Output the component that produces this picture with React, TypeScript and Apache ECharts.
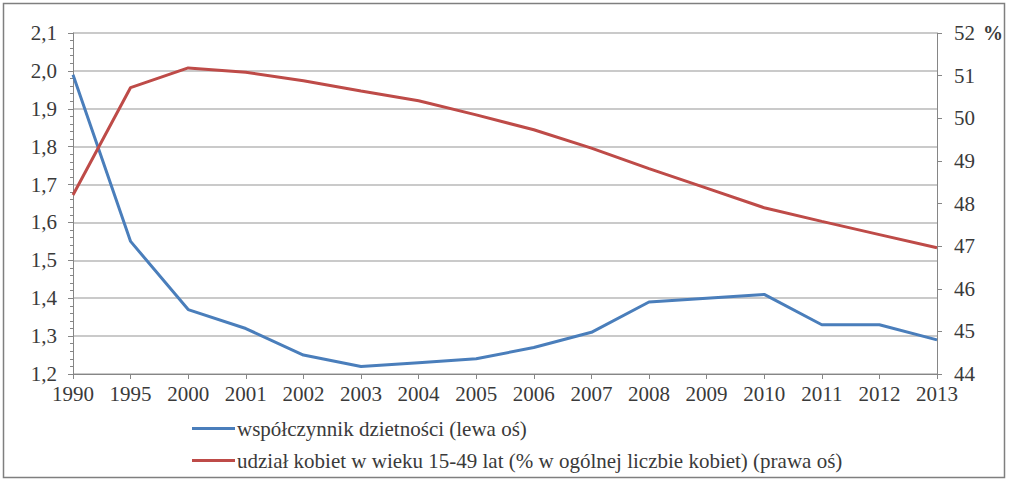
import React, { useEffect, useRef } from "react";
import * as echarts from "echarts";

const years = ["1990", "1995", "2000", "2001", "2002", "2003", "2004", "2005", "2006", "2007", "2008", "2009", "2010", "2011", "2012", "2013"];
const fertility = [1.99, 1.55, 1.37, 1.32, 1.25, 1.22, 1.23, 1.24, 1.27, 1.31, 1.39, 1.40, 1.41, 1.33, 1.33, 1.29];
const womenShare = [48.2, 50.72, 51.18, 51.08, 50.88, 50.64, 50.41, 50.08, 49.73, 49.3, 48.82, 48.36, 47.9, 47.58, 47.27, 46.96];
const seriesNames = [
  "współczynnik dzietności (lewa oś)",
  "udział kobiet w wieku 15-49 lat (% w ogólnej liczbie kobiet) (prawa oś)",
];

const FONT = "Liberation Serif";
const TEXT = "#3a3a3a";
const AXIS = "#868686";
const FS = 21;

export default function App() {
  const ref = useRef<HTMLDivElement>(null);
  useEffect(() => {
    if (!ref.current) return;
    const chart = echarts.init(ref.current, undefined, { renderer: "svg" });
    chart.setOption({
      animation: false,
      backgroundColor: "#ffffff",
      textStyle: { fontFamily: FONT },
      grid: { left: 73, right: 72, top: 33, bottom: 108 },
      graphic: [
        {
          type: "rect",
          shape: { x: 3.5, y: 3.5, width: 1001, height: 474 },
          style: { fill: "none", stroke: "#7f7f7f", lineWidth: 1.5 },
        },
        {
          type: "text",
          x: 983,
          y: 33,
          style: { text: "%", fontFamily: FONT, fontSize: 20, fontWeight: "bold", fill: TEXT, verticalAlign: "middle" },
        },
      ],
      legend: {
        orient: "vertical",
        left: 187,
        top: 413,
        itemWidth: 43,
        itemHeight: 3,
        itemGap: 11,
        icon: "rect",
        textStyle: { fontFamily: FONT, fontSize: FS, color: TEXT, padding: [0, 0, 0, -3] },
        data: seriesNames,
      },
      xAxis: {
        type: "category",
        data: years,
        boundaryGap: false,
        axisLine: { lineStyle: { color: AXIS, width: 1 } },
        axisTick: { show: true, alignWithLabel: true, length: 5, lineStyle: { color: AXIS } },
        axisLabel: { color: TEXT, fontFamily: FONT, fontSize: FS, margin: 9, interval: 0 },
      },
      yAxis: [
        {
          type: "value",
          min: 1.2,
          max: 2.1,
          interval: 0.1,
          axisLine: { show: true, lineStyle: { color: AXIS } },
          axisTick: { show: true, length: 5, lineStyle: { color: AXIS } },
          minorTick: { show: true, splitNumber: 5, length: 3, lineStyle: { color: AXIS } },
          splitLine: { show: true, lineStyle: { color: "#b8b8b8", width: 1.5 } },
          axisLabel: {
            color: TEXT,
            fontFamily: FONT,
            fontSize: FS,
            margin: 16,
            formatter: (v: number) => v.toFixed(1).replace(".", ","),
          },
        },
        {
          type: "value",
          min: 44,
          max: 52,
          interval: 1,
          position: "right",
          axisLine: { show: true, lineStyle: { color: AXIS } },
          axisTick: { show: true, length: 5, lineStyle: { color: AXIS } },
          splitLine: { show: false },
          axisLabel: { color: TEXT, fontFamily: FONT, fontSize: FS, margin: 17 },
        },
      ],
      series: [
        {
          name: seriesNames[0],
          type: "line",
          yAxisIndex: 0,
          data: fertility,
          showSymbol: false,
          symbol: "none",
          color: "#4a7ebb",
          lineStyle: { color: "#4a7ebb", width: 3 },
        },
        {
          name: seriesNames[1],
          type: "line",
          yAxisIndex: 1,
          data: womenShare,
          showSymbol: false,
          symbol: "none",
          color: "#be4b48",
          lineStyle: { color: "#be4b48", width: 3 },
        },
      ],
    });
    return () => chart.dispose();
  }, []);
  return (
    <>
      <style>{`.serif-chart text { font-family: "Liberation Serif", "Times New Roman", serif !important; }`}</style>
      <div
        ref={ref}
        className="serif-chart"
        style={{ width: 1009, height: 482, position: "absolute", left: 0, top: 0 }}
      />
    </>
  );
}
